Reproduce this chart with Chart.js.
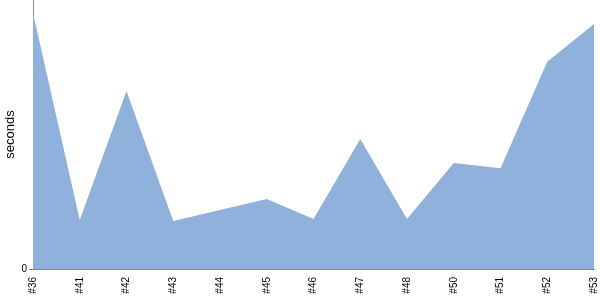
<!DOCTYPE html>
<html><head><meta charset="utf-8">
<script src="https://cdn.jsdelivr.net/npm/chart.js@4"></script>
<style>html,body{margin:0;padding:0;background:#fff}#wrap{width:600px;height:300px}</style>
</head><body><div id="wrap"><canvas id="c"></canvas></div>
<script>
const categories = ['#36','#41','#42','#43','#44','#45','#46','#47','#48','#50','#51','#52','#53'];
const seconds = [95.2, 18.2, 66.2, 17.8, 21.9, 26.0, 18.6, 48.3, 18.6, 39.4, 37.5, 77.0, 91.1];
const yTicks = [0];

new Chart(document.getElementById('c'), {
  type: 'line',
  data: {
    labels: categories,
    datasets: [{
      data: seconds,
      fill: 'origin',
      backgroundColor: 'rgb(143,177,219)',
      borderWidth: 0,
      borderColor: 'rgba(0,0,0,0)',
      pointRadius: 0,
      tension: 0
    }]
  },
  options: {
    responsive: true,
    maintainAspectRatio: false,
    animation: false,
    layout: { padding: 0 },
    plugins: { legend: { display: false }, tooltip: { enabled: false } },
    scales: {
      x: {
        offset: false,
        grid: { display: false },
        border: { display: true, color: '#888' },
        afterFit: axis => { axis.height = 31; axis.paddingRight = 6; axis.paddingLeft = 0; },
        ticks: {
          maxRotation: 90, minRotation: 90, autoSkip: false,
          color: '#000', padding: 0,
          font: { family: 'Liberation Sans', size: 10 }
        }
      },
      y: {
        min: 0, max: 100,
        afterBuildTicks: axis => { axis.ticks = yTicks.map(v => ({ value: v })); },
        afterFit: axis => { axis.width = 33; axis.paddingTop = 0; axis.paddingBottom = 0; },
        grid: { drawOnChartArea: false, drawTicks: true, tickLength: 4, color: '#888' },
        border: { display: true, color: '#888' },
        ticks: { color: '#000', padding: 2, font: { family: 'Liberation Sans', size: 10 } },
        title: { display: true, text: 'seconds', color: '#000', padding: { top: 3, bottom: 0 }, font: { family: 'Liberation Sans', size: 13 } }
      }
    }
  }
});
</script></body></html>
